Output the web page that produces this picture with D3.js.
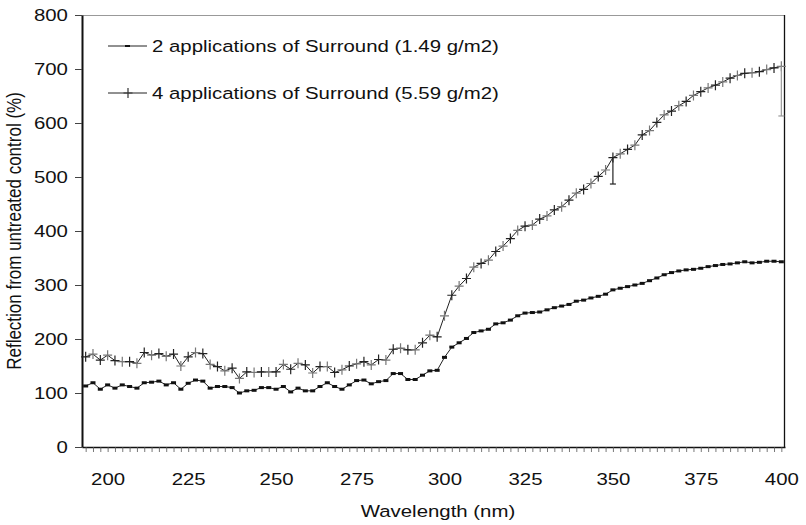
<!DOCTYPE html>
<html>
<head>
<meta charset="utf-8">
<script src="https://cdn.jsdelivr.net/npm/d3@7"></script>
<style>
  body { margin: 0; background: #fff; }
  text { font-family: "Liberation Sans", Arial, sans-serif; fill: #111; }
</style>
</head>
<body>
<div id="chart_svg"></div>
<script>
// categories (nm) - one per measured point
const wavelengths = [193,195,198,200,202,205,207,209,211,214,216,218,220,223,225,
  227,229,231,233,235,238,240,242,244,246,248,250,
  252,255,257,259,261,264,266,268,270,273,275,
  277,279,281,283,286,288,290,292,294,296,298,300,
  302,304,307,309,311,314,316,318,320,323,325,
  327,329,331,333,336,338,340,342,344,346,348,350,
  352,354,356,358,360,362,365,367,369,371,373,375,
  377,379,382,384,386,388,391,393,395,398,400]

const twoApps = [113,119,107,115,109,115,112,109,119,120,122,115,119,107,118,124,122,109,112,112,
  110,100,104,105,110,110,107,112,102,109,104,104,112,
  119,112,107,115,123,124,117,121,123,136,136,125,125,133,141,142,166,185,193,201,212,215,218,228,230,235,243,
  248,249,250,254,258,261,264,270,272,276,279,283,291,294,297,300,303,308,313,319,
  323,326,328,329,331,334,336,338,339,341,343,341,342,344,344,343]

const fourApps = [167,172,161,170,160,158,158,155,175,170,173,168,172,150,167,175,173,153,149,141,
  146,127,139,138,139,139,139,153,144,155,152,137,149,
  149,138,143,150,154,158,152,162,161,181,183,180,180,193,207,204,243,281,298,312,333,340,346,362,372,386,401,
  409,411,422,428,439,445,457,470,477,488,501,513,536,543,551,559,578,586,601,615,
  622,632,640,651,658,665,670,676,683,688,692,693,695,699,702,705]

// error bars (lower end) on the 4-application series
const errCats = [350, 400]
const errLow = [487, 613]

const xLabels = [200, 225, 250, 275, 300, 325, 350, 375, 400]
const yTicks = [0, 100, 200, 300, 400, 500, 600, 700, 800]
const seriesNames = ["2 applications of Surround (1.49 g/m2)", "4 applications of Surround (5.59 g/m2)"]

const totalWidth = 806
const totalHeight = 525
const stretch = 1.2   // the original figure is a bit wider than tall

var margin = {top: 15, right: 21, bottom: 78, left: 82},
    width = totalWidth - margin.left - margin.right,
    height = totalHeight - margin.top - margin.bottom;

var svg = d3.select("#chart_svg")
  .append("svg")
  .attr("width", totalWidth)
  .attr("height", totalHeight)

var g = svg.append("g")
  .attr("transform", "translate(" + margin.left + "," + margin.top + ")");

var x = d3.scalePoint()
  .domain(wavelengths)
  .range([0, width])
  .padding(0.5)

var y = d3.scaleLinear()
  .domain([0, 800])
  .range([height, 0])

// plot area border (top light, right dark)
g.append("line").attr("x1", 0).attr("x2", width).attr("y1", 0.5).attr("y2", 0.5)
  .attr("stroke", "#999").attr("stroke-width", 1)
g.append("line").attr("x1", width - 0.5).attr("x2", width - 0.5).attr("y1", 0).attr("y2", height)
  .attr("stroke", "#111").attr("stroke-width", 1.3)

// x axis: tick at every category, labels only at round wavelengths
var xAxis = g.append("g")
  .attr("transform", "translate(0," + height + ")")
  .call(d3.axisBottom(x)
    .tickValues(wavelengths)
    .tickSize(5)
    .tickSizeOuter(0)
    .tickPadding(21)
    .tickFormat(function(d) { return xLabels.indexOf(d) >= 0 ? d : "" }))
xAxis.select(".domain").attr("stroke", "#111").attr("stroke-width", 1.5)
xAxis.selectAll(".tick line").attr("stroke", "#555").attr("stroke-width", 0.8)
xAxis.selectAll("text").attr("font-size", 17).attr("fill", "#111")
  .attr("transform", "scale(" + stretch + ",1)")

// y axis
var yAxis = g.append("g")
  .call(d3.axisLeft(y).tickValues(yTicks).tickSize(7).tickSizeOuter(0).tickPadding(4.7))
yAxis.select(".domain").attr("stroke", "#111").attr("stroke-width", 2)
yAxis.selectAll(".tick line").attr("stroke", "#444")
yAxis.selectAll("text").attr("font-size", 17).attr("fill", "#111")
  .attr("transform", "scale(" + stretch + ",1)")

// axis titles
svg.append("text")
  .attr("transform", "translate(438,517) scale(" + stretch + ",1)")
  .attr("text-anchor", "middle")
  .attr("font-size", 17)
  .text("Wavelength (nm)")

svg.append("text")
  .attr("transform", "translate(21," + (margin.top + height / 2) + ") scale(" + stretch + ",1) rotate(-90)")
  .attr("text-anchor", "middle")
  .attr("font-size", 17)
  .text("Reflection from untreated control (%)")

var line = d3.line()
  .x(function(d, i) { return x(wavelengths[i]) })
  .y(function(d) { return y(d) })

// series 2 (4 applications) with cross markers
g.append("path")
  .datum(fourApps)
  .attr("fill", "none")
  .attr("stroke", "#222")
  .attr("stroke-width", 1)
  .attr("d", line)

var crossPath = "M-4.5,0H4.5M0,-5V5"
g.selectAll(".cross")
  .data(fourApps)
  .enter().append("path")
  .attr("class", "cross")
  .attr("transform", function(d, i) { return "translate(" + x(wavelengths[i]) + "," + y(d) + ")" })
  .attr("d", crossPath)
  .attr("stroke", function(d, i) { return i % 2 ? "#777" : "#222" })
  .attr("stroke-width", 1.2)

// error bars
errCats.forEach(function(c, k) {
  var i = wavelengths.indexOf(c)
  var col = k === 0 ? "#222" : "#999"
  var cx = x(c)
  g.append("line").attr("x1", cx).attr("x2", cx)
    .attr("y1", y(fourApps[i])).attr("y2", y(errLow[k]))
    .attr("stroke", col).attr("stroke-width", 1.2)
  g.append("line").attr("x1", cx - 3).attr("x2", cx + 3)
    .attr("y1", y(errLow[k])).attr("y2", y(errLow[k]))
    .attr("stroke", col).attr("stroke-width", 1.2)
})

// series 1 (2 applications) with small square markers
g.append("path")
  .datum(twoApps)
  .attr("fill", "none")
  .attr("stroke", "#222")
  .attr("stroke-width", 1)
  .attr("d", line)

g.selectAll(".sq")
  .data(twoApps)
  .enter().append("rect")
  .attr("class", "sq")
  .attr("x", function(d, i) { return x(wavelengths[i]) - 2.5 })
  .attr("y", function(d) { return y(d) - 1.5 })
  .attr("width", 5)
  .attr("height", 3)
  .attr("fill", "#111")

// legend
var legend = svg.append("g").attr("transform", "translate(108,46)")
seriesNames.forEach(function(name, k) {
  var row = legend.append("g").attr("transform", "translate(0," + (k * 47) + ")")
  row.append("line").attr("x1", 0).attr("x2", 39).attr("y1", 0).attr("y2", 0)
    .attr("stroke", "#222").attr("stroke-width", 1)
  if (k === 0) {
    row.append("rect").attr("x", 17).attr("y", -1).attr("width", 5).attr("height", 2).attr("fill", "#111")
  } else {
    row.append("path").attr("transform", "translate(20,0)").attr("d", crossPath)
      .attr("stroke", "#333").attr("stroke-width", 1.2)
  }
  row.append("text")
    .attr("transform", "translate(44,6) scale(" + stretch + ",1)")
    .attr("font-size", 17)
    .text(name)
})
</script>
</body>
</html>
